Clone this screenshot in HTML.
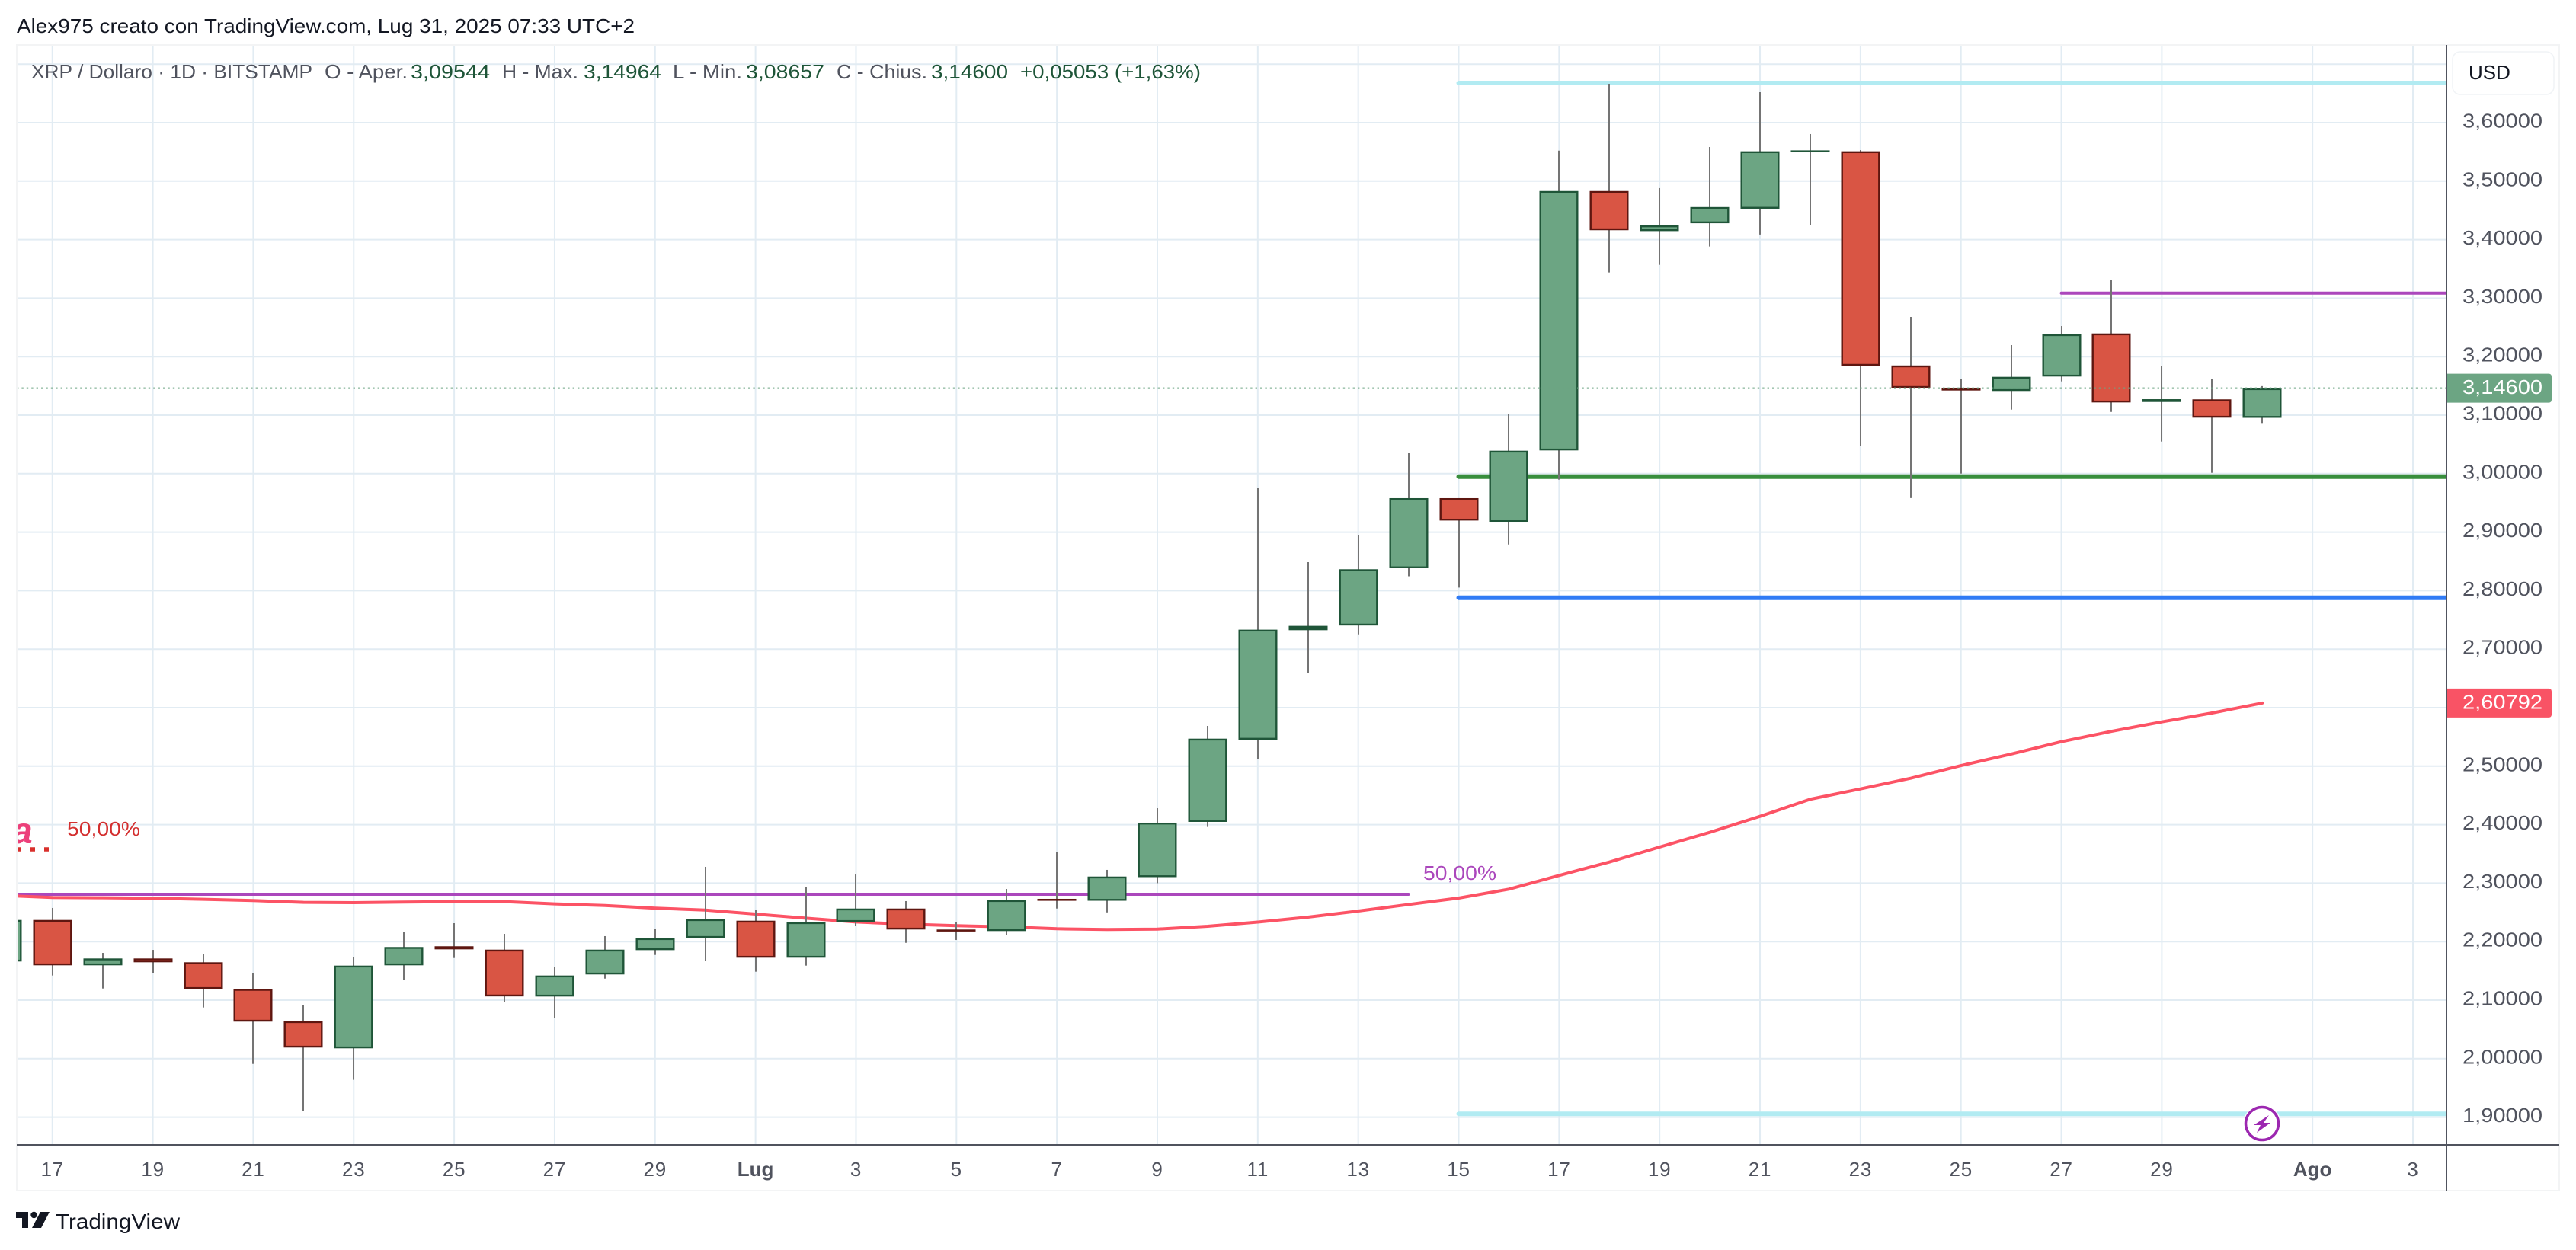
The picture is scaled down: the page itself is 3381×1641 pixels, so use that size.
<!DOCTYPE html>
<html lang="it">
<head>
<meta charset="utf-8">
<title>XRP / Dollaro 1D</title>
<style>
html,body{margin:0;padding:0;background:#fff;width:3381px;height:1641px;overflow:hidden}
svg{display:block}
text{font-family:"Liberation Sans",sans-serif;font-size:26px}
</style>
</head>
<body>
<svg id="chart" xmlns="http://www.w3.org/2000/svg" width="3381" height="1641" viewBox="0 0 3381 1641">
  <defs><clipPath id="plot-clip"><rect x="23" y="60" width="3188" height="1443"/></clipPath></defs>
  <rect x="22" y="59" width="3337" height="1504" fill="#fff" stroke="#f3f4f5" stroke-width="2"/>
  <g id="grid"></g>
  <g clip-path="url(#plot-clip)">
    <g id="levels"></g>
    <polyline id="ma-line" fill="none" stroke="#fc5365" stroke-width="4" stroke-linejoin="round" stroke-linecap="round"/>
    <text x="16" y="1107" fill="#ec407a" font-weight="bold" font-style="italic" style="font-size:48px">a</text>
    <line x1="22" y1="1115" x2="64" y2="1115" stroke="#d9302c" stroke-width="5.5" stroke-dasharray="6 12"/>
    <text x="88" y="1097" fill="#d32f2f" textLength="96" lengthAdjust="spacingAndGlyphs">50,00%</text>
    <text x="1868" y="1155" fill="#ab47bc" textLength="96" lengthAdjust="spacingAndGlyphs">50,00%</text>
    <g id="candles"></g>
    <line id="last-line" x1="22" x2="3211" stroke="#6ca583" stroke-width="2" stroke-dasharray="2.4 4"/>
  </g>
  <g id="y-axis"></g>
  <g id="x-axis"></g>
  <line x1="3211" y1="59" x2="3211" y2="1563" stroke="#50535e" stroke-width="2"/>
  <line x1="22" y1="1503" x2="3359" y2="1503" stroke="#50535e" stroke-width="2"/>

  <g>
    <rect x="3219" y="68" width="133" height="56" rx="10" fill="#fff" stroke="#f0f3f6" stroke-width="1.5"/>
    <text x="3240" y="104" fill="#131722">USD</text>
  </g>

  <text x="22" y="43" fill="#131722" textLength="811" lengthAdjust="spacingAndGlyphs">Alex975 creato con TradingView.com, Lug 31, 2025 07:33 UTC+2</text>

  <g>
    <text x="41" y="103" fill="#50535e" textLength="369" lengthAdjust="spacingAndGlyphs">XRP / Dollaro · 1D · BITSTAMP</text>
    <text x="426" y="103" fill="#50535e" textLength="109" lengthAdjust="spacingAndGlyphs">O - Aper.</text>
    <text x="539" y="103" fill="#1e5538" textLength="104" lengthAdjust="spacingAndGlyphs">3,09544</text>
    <text x="659" y="103" fill="#50535e" textLength="100" lengthAdjust="spacingAndGlyphs">H - Max.</text>
    <text x="766" y="103" fill="#1e5538" textLength="102" lengthAdjust="spacingAndGlyphs">3,14964</text>
    <text x="883" y="103" fill="#50535e" textLength="91" lengthAdjust="spacingAndGlyphs">L - Min.</text>
    <text x="979" y="103" fill="#1e5538" textLength="103" lengthAdjust="spacingAndGlyphs">3,08657</text>
    <text x="1098" y="103" fill="#50535e" textLength="119" lengthAdjust="spacingAndGlyphs">C - Chius.</text>
    <text x="1222" y="103" fill="#1e5538" textLength="101" lengthAdjust="spacingAndGlyphs">3,14600</text>
    <text x="1339" y="103" fill="#1e5538" textLength="237" lengthAdjust="spacingAndGlyphs">+0,05053 (+1,63%)</text>
  </g>

  <g>
    <path id="last-tag" fill="#6ca583"/>
    <text id="last-tag-text" x="3232" fill="#fff" textLength="105" lengthAdjust="spacingAndGlyphs"></text>
  </g>
  <g>
    <path id="ma-tag" fill="#f95365"/>
    <text id="ma-tag-text" x="3232" fill="#fff" textLength="105" lengthAdjust="spacingAndGlyphs"></text>
  </g>

  <g>
    <circle cx="2969" cy="1475" r="24.5" fill="#fff"/>
    <circle cx="2969" cy="1475" r="21.5" fill="#fff" stroke="#9c27b0" stroke-width="3.5"/>
    <path d="M2978 1464 L2958 1477 L2967 1477 L2962 1487 L2980 1474 L2971 1474 Z" fill="#9c27b0"/>
  </g>

  <g>
    <path d="M21 1591 H37 V1612 H29 V1599 H21 Z M53 1591 H65 L54 1612 H42 Z" fill="#131722"/>
    <circle cx="44.5" cy="1595" r="4.2" fill="#131722"/>
    <text x="73" y="1613" fill="#131722" style="font-size:28px" textLength="163" lengthAdjust="spacingAndGlyphs">TradingView</text>
  </g>
</svg>
<script>
// Daily candles, 16 Jun 2025 (day -1) through 31 Jul 2025 (day 44)
var firstDay = -1;
var opens = [2.1660,2.2371,2.1595,2.1712,2.1647,2.1191,2.0639,2.0176,2.1595,2.1921,2.1863,2.1061,2.1439,2.1855,2.2064,2.2358,2.1725,2.2337,2.2566,2.2207,2.2181,2.2732,2.2699,2.3103,2.4047,2.5453,2.7324,2.7404,2.8383,2.9581,2.9177,3.0397,3.4831,3.4146,3.4280,3.4529,3.5510,3.5510,3.1849,3.1469,3.1413,3.1660,3.2397,3.1225,3.1270,3.09544];
var highs = [2.2371,2.2576,2.1807,2.1859,2.1794,2.1456,2.0909,2.1729,2.2172,2.2315,2.2133,2.1560,2.2094,2.2211,2.3279,2.2549,2.2927,2.3148,2.2693,2.2341,2.2901,2.3539,2.3227,2.4281,2.5688,2.9763,2.8487,2.8956,3.0349,2.9581,3.1026,3.5521,3.6664,3.4881,3.5583,3.6521,3.5805,3.5531,3.2680,3.1625,3.2198,3.2523,3.3318,3.1846,3.1625,3.14964];
var lows = [2.1660,2.1421,2.1199,2.1460,2.0874,1.9910,1.9103,1.9637,2.1342,2.1720,2.0965,2.0691,2.1368,2.1772,2.1668,2.1486,2.1590,2.2267,2.1980,2.2029,2.2111,2.2566,2.2500,2.2999,2.3961,2.5121,2.6596,2.7254,2.8246,2.8052,2.8789,2.9898,3.3440,3.3569,3.3883,3.4088,3.4249,3.0470,2.9583,3.0001,3.1095,3.1577,3.1056,3.0548,3.0014,3.08657];
var closes = [2.2371,2.1595,2.1712,2.1647,2.1191,2.0632,2.0189,2.1590,2.1908,2.1868,2.1063,2.1421,2.1863,2.2059,2.2384,2.1725,2.2332,2.2566,2.2207,2.2181,2.2710,2.2710,2.3113,2.4034,2.5470,2.7333,2.7398,2.8366,2.9581,2.9198,3.0392,3.4831,3.4161,3.4243,3.4557,3.5510,3.5526,3.1844,3.1466,3.1421,3.1655,3.2384,3.1217,3.1273,3.0957,3.1460];
var maValues = [2.2790,2.2754,2.2749,2.2741,2.2723,2.2702,2.2671,2.2667,2.2676,2.2684,2.2684,2.2645,2.2618,2.2572,2.2540,2.2471,2.2402,2.2337,2.2298,2.2272,2.2254,2.2220,2.2207,2.2214,2.2263,2.2335,2.2419,2.2523,2.2635,2.2745,2.2897,2.3132,2.3361,2.3617,2.3869,2.4142,2.4434,2.4611,2.4793,2.5010,2.5206,2.5418,2.5596,2.5757,2.5909,2.60792];

// Axis ticks
var priceTicks = [3.7,3.6,3.5,3.4,3.3,3.2,3.1,3.0,2.9,2.8,2.7,2.6,2.5,2.4,2.3,2.2,2.1,2.0,1.9];
var priceTickLabels = ["","3,60000","3,50000","3,40000","3,30000","3,20000","3,10000","3,00000","2,90000","2,80000","2,70000","","2,50000","2,40000","2,30000","2,20000","2,10000","2,00000","1,90000"];
var timeTickDays = [0,2,4,6,8,10,12,14,16,18,20,22,24,26,28,30,32,34,36,38,40,42,45,47];
var timeTickLabels = ["17","19","21","23","25","27","29","Lug","3","5","7","9","11","13","15","17","19","21","23","25","27","29","Ago","3"];

// Horizontal drawings: prices and day spans
var levelNames = ["range-high-level","range-low-level","resistance-level","support-level","breakout-level","fib-50-level"];
var levelPrices = [3.6677,1.9057,3.3087,2.9949,2.7878,2.2810];
var levelStartDays = [28,28,40,28,28,-1];
var levelEndDays = [48,48,48,48,48,27];
var levelColors = ["#b2ebf2","#b2ebf2","#ab47bc","#388e3c","#2f7bf5","#ab47bc"];
var levelWidths = [6,6,4,6,6,4];

var lastPrice = 3.146;
var lastLabel = "3,14600";
var maPrice = 2.60792;
var maLabel = "2,60792";

var NS = "http://www.w3.org/2000/svg";
function xScale(day){ return 68.75 + day * 65.92; }
function yScale(price){ return 161 + (3.6 - price) * 768; }
function mk(tag, attrs, parent){
  var el = document.createElementNS(NS, tag);
  for (var k in attrs) el.setAttribute(k, attrs[k]);
  parent.appendChild(el);
  return el;
}

var gridG = document.getElementById("grid");
priceTicks.forEach(function(p){
  var y = yScale(p);
  var el = mk("line", {x1:23, x2:3211, y1:y, y2:y, stroke:"#e2ecf3", "stroke-width":2}, gridG);
  
  
});
timeTickDays.forEach(function(d){
  var x = xScale(d);
  var el = mk("line", {x1:x, x2:x, y1:60, y2:1503, stroke:"#e2ecf3", "stroke-width":2}, gridG);
  
  
});

var yAxisG = document.getElementById("y-axis");
priceTicks.forEach(function(p, i){
  if (!priceTickLabels[i]) return;
  var el = mk("text", {x:3232, y:yScale(p) + 6.5, fill:"#50535e", textLength:105, lengthAdjust:"spacingAndGlyphs"}, yAxisG);
  el.textContent = priceTickLabels[i];
  
  
});

var xAxisG = document.getElementById("x-axis");
timeTickDays.forEach(function(d, i){
  var label = timeTickLabels[i];
  var bold = label === "Lug" || label === "Ago";
  var el = mk("text", {x:xScale(d), y:1544, fill:"#50535e", "text-anchor":"middle", "font-weight":bold ? "bold" : "normal", "letter-spacing":bold ? 0 : 0.8}, xAxisG);
  el.textContent = label;
  
  
});

var levelsG = document.getElementById("levels");
levelPrices.forEach(function(p, i){
  var y = yScale(p);
  var el = mk("line", {x1:xScale(levelStartDays[i]), x2:xScale(levelEndDays[i]), y1:y, y2:y, stroke:levelColors[i], "stroke-width":levelWidths[i], "stroke-linecap":"round"}, levelsG);
  
  
});

var ma = document.getElementById("ma-line");
ma.setAttribute("points", maValues.map(function(v, i){
  return xScale(firstDay + i).toFixed(2) + "," + yScale(v).toFixed(2);
}).join(" "));

var candlesG = document.getElementById("candles");
var bodyW = 51, sw = 2.4;
opens.forEach(function(o, i){
  var c = closes[i];
  var up = c >= o;
  var x = Math.round(xScale(firstDay + i));
  var wick = mk("line", {x1:x, x2:x, y1:yScale(highs[i]), y2:yScale(lows[i]), stroke:"#747474", "stroke-width":2}, candlesG);
  
  
  var top = yScale(Math.max(o, c));
  var bot = yScale(Math.min(o, c));
  var h = Math.max(0.2, bot - top - sw);
  var body = mk("rect", {x:x - bodyW / 2 + sw / 2, y:top + sw / 2, width:bodyW - sw, height:h, fill:up ? "#6ca583" : "#d95544", stroke:up ? "#1f5538" : "#5e1610", "stroke-width":sw}, candlesG);
  
  
});

var lastY = yScale(lastPrice);
var lastLine = document.getElementById("last-line");
lastLine.setAttribute("y1", lastY);
lastLine.setAttribute("y2", lastY);

function tagPath(y){
  var t = y - 19, b = y + 19;
  return "M3212 " + t + " H3345 Q3349 " + t + " 3349 " + (t + 4) + " V" + (b - 4) + " Q3349 " + b + " 3345 " + b + " H3212 Z";
}
document.getElementById("last-tag").setAttribute("d", tagPath(lastY));
var lastText = document.getElementById("last-tag-text");
lastText.setAttribute("y", lastY + 7.5);
lastText.textContent = lastLabel;
var maY = yScale(maPrice);
document.getElementById("ma-tag").setAttribute("d", tagPath(maY));
var maText = document.getElementById("ma-tag-text");
maText.setAttribute("y", maY + 7.5);
maText.textContent = maLabel;
</script>
</body>
</html>
